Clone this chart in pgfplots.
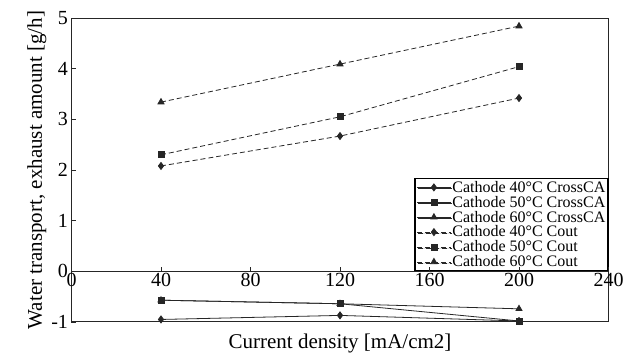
\documentclass[border=0pt]{standalone}
\usepackage{pgfplots}
\pgfplotsset{compat=1.18}
\usetikzlibrary{shadows}
\usepackage{fontspec}
\setmainfont{Liberation Serif}
\begin{document}
\begin{tikzpicture}
\begin{axis}[name=ax, scale only axis, width=537pt, height=304pt,
  xmin=0, xmax=240, ymin=-1, ymax=5,
  ytick={-1,0,...,5}, xtick=\empty,
  tick align=inside, ytick pos=left,
  major tick length=5pt,
  axis line style={line width=1pt, black!85},
  every tick/.style={black!85, line width=0.8pt},
  font=\fontsize{20}{22}\selectfont,
  ylabel={Water transport, exhaust amount [g/h]},
  ylabel style={font=\fontsize{21}{22}\selectfont, yshift=-2pt},
  xlabel={Current density [mA/cm2]},
  xlabel style={font=\fontsize{21}{22}\selectfont, yshift=-8pt},
  /pgf/number format/assume math mode=true,
  clip=false,
  legend cell align=left,
  legend image code/.code={\draw[mark repeat=2,mark phase=2,#1] plot coordinates {(0pt,0pt) (17pt,0pt) (34pt,0pt)};},
  legend style={at={(1,0.1667)}, anchor=south east, draw=black, line width=1.2pt,
    fill=white, drop shadow={shadow xshift=1.2pt, shadow yshift=-1.2pt, fill=black, opacity=1},
    font=\fontsize{16}{16}\selectfont, row sep=0.3pt, inner sep=1.5pt,
    nodes={inner sep=1pt}},
  legend image post style={line width=0.8pt},
]
\addplot[black!85, line width=0.8pt, mark=diamond*, mark size=3.5pt] coordinates {(40,-0.95)(120,-0.87)(200,-0.98)};
\addlegendentry{Cathode 40°C CrossCA}
\addplot[black!85, line width=0.8pt, mark=square*, mark size=3pt] coordinates {(40,-0.57)(120,-0.64)(200,-0.98)};
\addlegendentry{Cathode 50°C CrossCA}
\addplot[black!85, line width=0.8pt, mark=triangle*, mark size=3.5pt] coordinates {(40,-0.57)(120,-0.64)(200,-0.74)};
\addlegendentry{Cathode 60°C CrossCA}
\addplot[black!85, line width=0.8pt, dash pattern=on 5pt off 3pt, mark=diamond*, mark size=3.5pt, mark options={solid}] coordinates {(40,2.08)(120,2.67)(200,3.42)};
\addlegendentry{Cathode 40°C Cout}
\addplot[black!85, line width=0.8pt, dash pattern=on 5pt off 3pt, mark=square*, mark size=3pt, mark options={solid}] coordinates {(40,2.30)(120,3.05)(200,4.04)};
\addlegendentry{Cathode 50°C Cout}
\addplot[black!85, line width=0.8pt, dash pattern=on 5pt off 3pt, mark=triangle*, mark size=3.5pt, mark options={solid}] coordinates {(40,3.34)(120,4.09)(200,4.84)};
\addlegendentry{Cathode 60°C Cout}
\end{axis}
\begin{axis}[scale only axis, width=537pt, height=304pt,
  xmin=0, xmax=240, ymin=-1, ymax=5,
  axis x line*=middle, axis y line=none,
  xtick={0,40,...,240}, tick align=inside, major tick length=4pt,
  axis line style={line width=1pt, black!85},
  every tick/.style={black!85, line width=0.8pt},
  font=\fontsize{20}{22}\selectfont,
  /pgf/number format/assume math mode=true,
  xticklabel style={yshift=2pt},
]
\end{axis}
\pgfresetboundingbox
\path ([xshift=-71.5pt,yshift=-33pt]ax.south west) rectangle ([xshift=15.5pt,yshift=18pt]ax.north east);
\end{tikzpicture}
\end{document}
